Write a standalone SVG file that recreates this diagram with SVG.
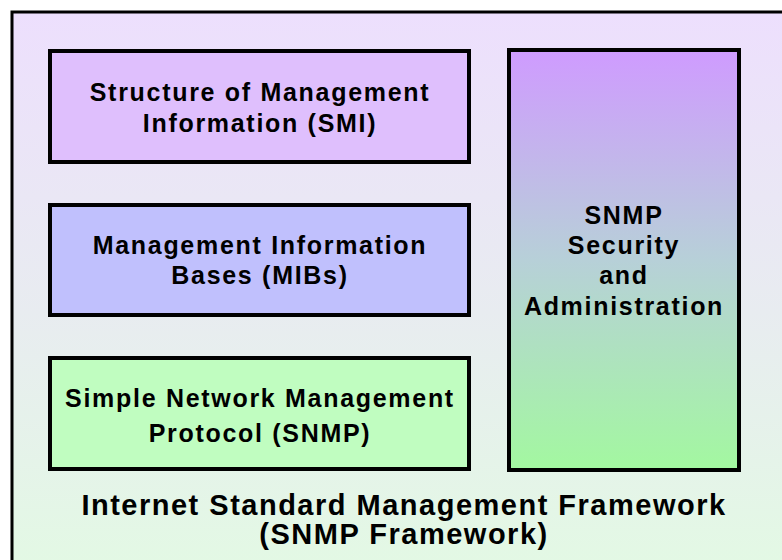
<svg xmlns="http://www.w3.org/2000/svg" width="782" height="560" viewBox="0 0 782 560">
<defs>
<linearGradient id="bg" x1="0" y1="0" x2="0" y2="1">
<stop offset="0" stop-color="#eddffd"/>
<stop offset="0.5" stop-color="#e8ecf0"/>
<stop offset="1" stop-color="#e2fbe2"/>
</linearGradient>
<linearGradient id="tall" x1="0" y1="0" x2="0" y2="1">
<stop offset="0" stop-color="#cf9bff"/>
<stop offset="0.5" stop-color="#b7d0d8"/>
<stop offset="1" stop-color="#a3f8a0"/>
</linearGradient>
<style>
.box{stroke:#000;stroke-width:4}
.t{font-family:"Liberation Sans",Arial,sans-serif;font-weight:bold;font-size:25px;fill:#000;text-anchor:middle;letter-spacing:1.7px}
.big{font-size:29px;letter-spacing:1.5px}
</style>
</defs>
<rect x="0" y="0" width="782" height="560" fill="#ffffff"/>
<g id="frame">
<rect x="12" y="12" width="800" height="600" fill="url(#bg)" stroke="#000" stroke-width="3"/>
<text class="t big" x="404" y="515">Internet Standard Management Framework</text>
<text class="t big" x="404" y="544">(SNMP Framework)</text>
</g>
<g id="smi">
<rect class="box" x="50" y="51" width="419" height="111" fill="#dfbffd"/>
<text class="t" x="260" y="101">Structure of Management</text>
<text class="t" x="260" y="132">Information (SMI)</text>
</g>
<g id="mib">
<rect class="box" x="50" y="205" width="419" height="110" fill="#c0c0fd"/>
<text class="t" x="260" y="254">Management Information</text>
<text class="t" x="260" y="284">Bases (MIBs)</text>
</g>
<g id="snmp">
<rect class="box" x="50" y="358" width="419" height="111" fill="#c0fdc0"/>
<text class="t" x="260" y="407">Simple Network Management</text>
<text class="t" x="260" y="442">Protocol (SNMP)</text>
</g>
<g id="security">
<rect class="box" x="509" y="50" width="230" height="420" fill="url(#tall)"/>
<text class="t" x="624" y="224">SNMP</text>
<text class="t" x="624" y="254">Security</text>
<text class="t" x="624" y="284">and</text>
<text class="t" x="624" y="315">Administration</text>
</g>
<g id="connectors"/>
</svg>
